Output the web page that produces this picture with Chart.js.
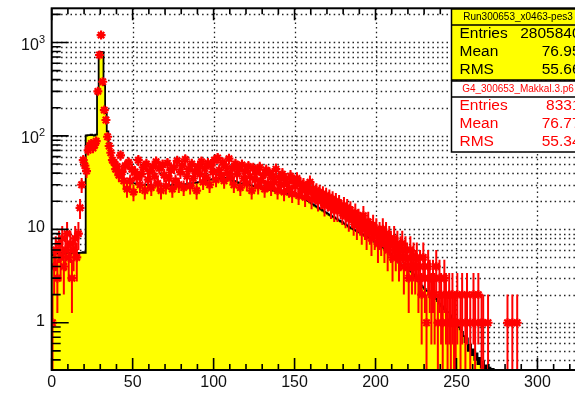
<!DOCTYPE html>
<html>
<head>
<meta charset="utf-8">
<script src="https://cdn.jsdelivr.net/npm/chart.js@4.4.1/dist/chart.umd.min.js"></script>
<style>
  html, body { margin: 0; padding: 0; background: #fff; overflow: hidden; width: 575px; height: 407px; }
  canvas { display: block; }
</style>
</head>
<body>
<canvas id="c" width="640" height="407" style="width:640px;height:407px"></canvas>
<script>
// Histogram binning (1 unit per bin, starting at 0)
const BIN_WIDTH = 1;
const X_MIN = 0, X_MAX = 350;
const Y_MIN = 0.312, Y_MAX = 2323;

// Measured spectrum (scaled), one entry per bin from x = 0
const dataCounts = [
  5.3, 5.6, 5.6, 5.5, 5.7, 5.6, 5.6, 5.5, 5.6, 5.7,
  5.6, 5.5, 5.6, 5.6, 5.7, 5.6, 5.5, 5.6, 5.6, 5.7,
  5.6, 101, 102, 102, 103, 102, 101, 103, 310, 790,
  795, 790, 350, 175, 112, 84, 67, 57, 50, 45,
  42, 39, 37, 35.5, 34, 33, 32.5, 32, 31.5, 31,
  31, 31, 30.5, 30.5, 30.5, 30, 30, 30, 30, 30,
  30, 29.5, 29.5, 29.5, 29.5, 29.5, 29.5, 29.5, 29.5, 29.5,
  29.5, 29.5, 29.5, 29.5, 30, 30, 30, 30, 30, 30,
  30.5, 30.5, 30.5, 30.5, 31, 31, 31, 31.5, 31.5, 31.5,
  32, 32, 32.5, 32.5, 33, 33, 33.5, 34, 34, 34.5,
  35, 35, 35.5, 35.5, 35.5, 35.5, 35.5, 35, 35, 34.5,
  34, 33.5, 33, 32.5, 32, 31.5, 31, 31, 30.5, 30.5,
  30, 30, 29.5, 29.5, 29, 29, 28.5, 28.5, 28, 28,
  27.5, 27.5, 27, 27, 26.5, 26.5, 26, 26, 25.5, 25.5,
  25, 25, 24.5, 24.5, 24, 24, 23.5, 23.5, 23, 23,
  23, 23, 22.5, 22, 22, 21.5, 21, 20.5, 20, 19.5,
  19, 18.5, 18, 17.5, 17.1, 16.7, 16.3, 15.9, 15.5, 15.1,
  14.7, 14.3, 14, 13.7, 13.4, 13.1, 12.8, 12.5, 12.2, 11.9,
  11.6, 11.3, 11, 10.7, 10.4, 10.2, 10, 9.8, 9.6, 9.4,
  9.2, 9, 8.8, 8.6, 8.4, 8.2, 8, 7.8, 7.6, 7.4,
  7.2, 7, 6.8, 6.6, 6.4, 6.2, 6.0, 5.9, 5.7, 5.5,
  5.2, 5.0, 4.8, 4.6, 4.4, 4.3, 4.1, 4.0, 3.9, 3.8,
  3.7, 3.6, 3.5, 3.3, 3.1, 2.9, 2.8, 2.6, 2.5, 2.4,
  2.3, 2.2, 2.2, 2.1, 2.0, 2.0, 1.9, 1.8, 1.7, 1.6,
  1.5, 1.5, 1.4, 1.4, 1.3, 1.3, 1.2, 1.1, 1.0, 1.0,
  0.95, 0.9, 0.85, 0.8, 0.72, 0.62, 0.68, 0.5, 0.58, 0.45,
  0.52, 0.4, 0.47, 0.36, 0.42, 0.33, 0.38, 0.3, 0.35, 0.28,
  0.33, 0.27, 0.32, 0.25, 0.3, 0.22, 0.26, 0.2, 0, 0
];

// Geant4 simulation, raw counts per bin from x = 0
const simCounts = [
  1, 4, 6, 3, 7, 5, 8, 4, 6, 9,
  5, 7, 3, 6, 8, 5, 9, 17, 30, 55,
  48, 42, 70, 78, 83, 74, 80, 88, 300, 735,
  1200, 380, 189, 148, 98, 78, 66, 55, 52, 44,
  47, 38, 62, 41, 33, 48, 27, 52, 33, 44,
  25, 41, 36, 55, 30, 39, 46, 26, 50, 34,
  42, 28, 47, 37, 53, 31, 45, 26, 49, 38,
  29, 51, 35, 43, 27, 46, 33, 54, 30, 41,
  48, 28, 56, 37, 44, 29, 50, 35, 42, 26,
  47, 39, 53, 32, 45, 36, 51, 30, 48, 41,
  55, 34, 58, 43, 38, 52, 33, 47, 40, 57,
  36, 45, 30, 50, 39, 44, 28, 49, 35, 42,
  31, 47, 37, 26, 45, 34, 41, 29, 46, 33,
  38, 27, 43, 31, 40, 28, 37, 32, 44, 26,
  36, 30, 39, 25, 34, 31, 27, 37, 24, 33,
  29, 35, 23, 31, 26, 30, 22, 28, 25, 32,
  21, 27, 24, 26, 20, 25, 21, 24, 18, 23,
  20, 22, 17, 21, 16, 20, 16, 19, 17, 15,
  18, 14, 17, 13, 16, 14, 12, 15, 11, 13,
  12, 10, 14, 11, 9, 12, 10, 8, 11, 9,
  10, 7, 9, 8, 10, 7, 9, 6, 8, 7,
  5, 8, 6, 7, 5, 6, 7, 4, 6, 5,
  3, 6, 4, 5, 4, 5, 3, 4, 2, 5,
  3, 1, 4, 3, 2, 3, 2, 4, 1, 3,
  2, 1, 3, 2, 1, 2, 1, 2, 1, 1,
  2, 0, 1, 2, 0, 1, 2, 0, 1, 0,
  2, 1, 0, 2, 0, 1, 1, 0, 0, 1,
  0, 0, 0, 0, 0, 0, 0, 0, 0, 0,
  0, 1, 0, 0, 1, 0, 0, 1, 0, 0
];

// Axis ticks
const xMajorTicks = [0, 50, 100, 150, 200, 250, 300];
const yDecadeLabels = [
  { value: 1, base: '1', exp: '' },
  { value: 10, base: '10', exp: '' },
  { value: 100, base: '10', exp: '2' },
  { value: 1000, base: '10', exp: '3' }
];

// Statistics boxes
const dataStatsTitle = 'Run300653_x0463-pes3';
const dataStats = [['Entries', '2805840'], ['Mean', '76.95'], ['RMS', '55.66']];
const simStatsTitle = 'G4_300653_Makkal.3.p6';
const simStats = [['Entries', '8331'], ['Mean', '76.77'], ['RMS', '55.34']];

const RED = '#ff0000';
const YELLOW = '#ffff00';
const FONT = '"Liberation Sans", Arial, Helvetica, sans-serif';

// Step outline: each bin starts at its left edge
const dataPoints = dataCounts.map((v, i) => ({ x: i * BIN_WIDTH, y: v }));
dataPoints.push({ x: dataCounts.length * BIN_WIDTH, y: 0 });

// Simulation markers at bin centres (empty bins are not drawn)
const simPoints = [];
simCounts.forEach((n, i) => { if (n > 0) simPoints.push({ x: (i + 0.5) * BIN_WIDTH, y: n }); });

function logTickValues(min, max) {
  const out = [];
  for (let e = -1; e <= 4; e++) {
    for (let m = 1; m <= 9; m++) {
      const v = m * Math.pow(10, e);
      if (v > min && v < max) out.push({ v, major: m === 1 });
    }
  }
  return out;
}

const frameAndGrid = {
  id: 'frameAndGrid',
  beforeDatasetsDraw(chart) {
    const { ctx, chartArea: a, scales: { x, y } } = chart;
    ctx.save();
    ctx.fillStyle = '#fff';
    ctx.fillRect(a.left, a.top, a.right - a.left, a.bottom - a.top);
    ctx.strokeStyle = '#222';
    ctx.lineWidth = 1.3;
    ctx.setLineDash([1.5, 3.2]);
    for (let xv = 50; xv < X_MAX; xv += 50) {
      const px = Math.round(x.getPixelForValue(xv)) + 0.5;
      ctx.beginPath(); ctx.moveTo(px, a.top); ctx.lineTo(px, a.bottom); ctx.stroke();
    }
    logTickValues(Y_MIN, Y_MAX).forEach(t => {
      const py = Math.round(y.getPixelForValue(t.v)) + 0.5;
      ctx.beginPath(); ctx.moveTo(a.left, py); ctx.lineTo(a.right, py); ctx.stroke();
    });
    ctx.restore();
  },
  afterDatasetsDraw(chart) {
    const { ctx, chartArea: a, scales: { x, y } } = chart;
    // Poisson error bars of the simulation
    ctx.save();
    ctx.beginPath(); ctx.rect(a.left, a.top, a.right - a.left, a.bottom - a.top); ctx.clip();
    ctx.strokeStyle = RED;
    ctx.lineWidth = 2;
    simCounts.forEach((n, i) => {
      if (n <= 0) return;
      const err = Math.sqrt(n);
      const cx = x.getPixelForValue((i + 0.5) * BIN_WIDTH);
      const yHi = y.getPixelForValue(n + err);
      const lo = n - err;
      const yLo = lo > Y_MIN ? y.getPixelForValue(lo) : a.bottom + 2;
      ctx.beginPath(); ctx.moveTo(cx, yLo); ctx.lineTo(cx, yHi); ctx.stroke();
      const yc = y.getPixelForValue(n);
      ctx.beginPath();
      ctx.moveTo(x.getPixelForValue(i * BIN_WIDTH), yc);
      ctx.lineTo(x.getPixelForValue((i + 1) * BIN_WIDTH), yc);
      ctx.stroke();
    });
    ctx.restore();
  },
  afterDraw(chart) {
    const { ctx, chartArea: a, scales: { x, y } } = chart;
    ctx.save();
    ctx.strokeStyle = '#000';
    ctx.lineWidth = 1.6;
    // tick marks
    for (let xv = X_MIN; xv <= X_MAX; xv += 10) {
      const px = x.getPixelForValue(xv);
      const len = xv % 50 === 0 ? 12 : 6;
      ctx.beginPath();
      ctx.moveTo(px, a.top); ctx.lineTo(px, a.top + len);
      ctx.moveTo(px, a.bottom); ctx.lineTo(px, a.bottom - len);
      ctx.stroke();
    }
    logTickValues(Y_MIN, Y_MAX).forEach(t => {
      const py = y.getPixelForValue(t.v);
      const len = t.major ? 17 : 9;
      ctx.beginPath();
      ctx.moveTo(a.left, py); ctx.lineTo(a.left + len, py);
      ctx.moveTo(a.right, py); ctx.lineTo(a.right - len, py);
      ctx.stroke();
    });
    // frame
    ctx.lineWidth = 2;
    ctx.strokeRect(a.left, a.top, a.right - a.left, a.bottom - a.top);

    // axis labels
    ctx.fillStyle = '#111';
    ctx.font = '16px ' + FONT;
    ctx.textAlign = 'center';
    ctx.textBaseline = 'middle';
    xMajorTicks.forEach(v => {
      ctx.fillText(String(v), x.getPixelForValue(v), a.bottom + 13);
    });
    yDecadeLabels.forEach(t => {
      const py = y.getPixelForValue(t.value);
      ctx.textAlign = 'right';
      if (!t.exp) {
        ctx.font = '16px ' + FONT;
        ctx.fillText(t.base, 45, py - 1.5);
      } else {
        ctx.font = '11px ' + FONT;
        const ew = ctx.measureText(t.exp).width;
        ctx.fillText(t.exp, 45, py - 3);
        ctx.font = '16px ' + FONT;
        ctx.fillText(t.base, 45 - ew, py + 3);
      }
    });

    // statistics boxes
    const bx = 451.5, bw = 133;
    function statBox(top, title, rows, fill, color) {
      const titleH = 16, h = 71;
      ctx.fillStyle = fill;
      ctx.fillRect(bx, top, bw, h);
      ctx.strokeStyle = '#000';
      ctx.lineWidth = 1.5;
      ctx.strokeRect(bx, top, bw, h);
      ctx.beginPath(); ctx.moveTo(bx, top + titleH); ctx.lineTo(bx + bw, top + titleH); ctx.stroke();
      ctx.fillStyle = color;
      ctx.textBaseline = 'middle';
      ctx.font = '10px ' + FONT;
      ctx.textAlign = 'center';
      ctx.fillText(title, bx + bw / 2, top + 8);
      ctx.font = '15.5px ' + FONT;
      rows.forEach((r, i) => {
        const ry = top + 24.5 + i * 18;
        ctx.textAlign = 'left';
        ctx.fillText(r[0], bx + 8, ry);
        ctx.textAlign = 'right';
        ctx.fillText(r[1], bx + bw - 4, ry);
      });
    }
    statBox(9, dataStatsTitle, dataStats, YELLOW, '#000');
    statBox(81, simStatsTitle, simStats, '#fff', RED);
    ctx.restore();
  }
};

new Chart(document.getElementById('c'), {
  type: 'line',
  data: {
    datasets: [
      {
        label: 'data',
        data: dataPoints,
        stepped: 'before',
        borderColor: '#000',
        borderWidth: 1.8,
        backgroundColor: YELLOW,
        fill: 'start',
        pointRadius: 0,
        order: 2
      },
      {
        label: 'sim',
        data: simPoints,
        showLine: false,
        pointStyle: 'star',
        pointRadius: 4.5,
        pointBorderWidth: 2.2,
        pointBorderColor: RED,
        pointBackgroundColor: RED,
        order: 1
      }
    ]
  },
  options: {
    responsive: false,
    devicePixelRatio: 1,
    animation: false,
    events: [],
    layout: { padding: { left: 51.7, top: 8.3, right: 21.6, bottom: 37 } },
    plugins: { legend: { display: false }, tooltip: { enabled: false }, title: { display: false } },
    scales: {
      x: { type: 'linear', min: X_MIN, max: X_MAX, display: false, bounds: 'data' },
      y: { type: 'logarithmic', min: Y_MIN, max: Y_MAX, display: false, bounds: 'data' }
    }
  },
  plugins: [frameAndGrid]
});
</script>
</body>
</html>
